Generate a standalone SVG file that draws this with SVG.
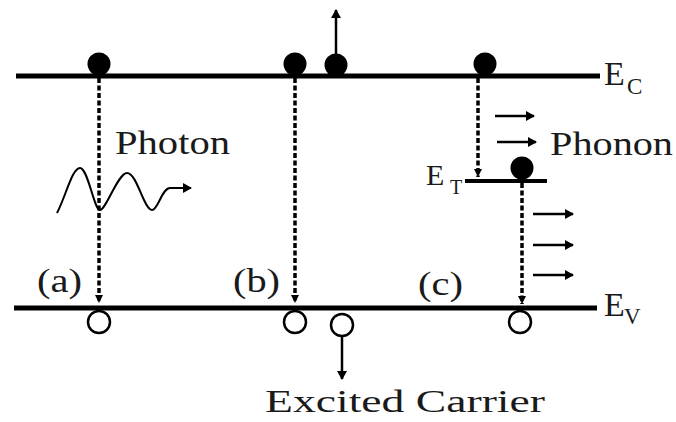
<svg xmlns="http://www.w3.org/2000/svg" width="676" height="422" viewBox="0 0 676 422">
<style>
.band{stroke:#000;stroke-width:5;fill:none}
.dash{stroke:#000;stroke-width:3.5;stroke-dasharray:5 2.5;fill:none}
.arr{stroke:#000;stroke-width:2.5;fill:none}
.e{fill:#000}
.h{fill:#fff;stroke:#000;stroke-width:2.5}
.t{font-family:"Liberation Serif","Times New Roman",serif;fill:#1a1a1a}
</style>
<defs>
<marker id="ah" markerWidth="10" markerHeight="10" refX="8" refY="5" orient="auto" markerUnits="userSpaceOnUse">
<path d="M0,0 L9,5 L0,10 Z" fill="#000"/>
</marker>
<marker id="ahs" markerWidth="10" markerHeight="10" refX="8" refY="5" orient="auto" markerUnits="userSpaceOnUse">
<path d="M0,1 L8,5 L0,9 Z" fill="#000"/>
</marker>
</defs>
<rect width="676" height="422" fill="#fff"/>
<g id="bands">
<line class="band" x1="16" y1="76" x2="600" y2="76"/>
<line class="band" x1="14" y1="308" x2="597" y2="308"/>
<line class="band" x1="465" y1="181" x2="547" y2="181" style="stroke-width:4"/>
</g>
<g id="connectors">
<line class="dash" x1="99" y1="78" x2="99" y2="303" marker-end="url(#ahs)"/>
<line class="dash" x1="295" y1="78" x2="295" y2="303" marker-end="url(#ahs)"/>
<line class="dash" x1="478" y1="78" x2="478" y2="177" marker-end="url(#ahs)"/>
<line class="dash" x1="522" y1="183" x2="522" y2="304" marker-end="url(#ahs)"/>
<line class="arr" x1="336" y1="54" x2="336" y2="10" marker-end="url(#ah)"/>
<line class="arr" x1="342" y1="336" x2="342" y2="379" marker-end="url(#ah)"/>
<path class="arr" d="M57,213 C66,196 72,168 80,168 C88,168 94,210 100,210 C106,210 118,173 127,173 C137,173 144,210 152,210 C158,210 162,188 170,188 L191,188" style="stroke-width:2" marker-end="url(#ah)"/>
<line class="arr" x1="495" y1="116" x2="534" y2="116" marker-end="url(#ah)"/>
<line class="arr" x1="497" y1="142" x2="536" y2="142" marker-end="url(#ah)"/>
<line class="arr" x1="533" y1="214" x2="573" y2="214" marker-end="url(#ah)"/>
<line class="arr" x1="533" y1="245" x2="573" y2="245" marker-end="url(#ah)"/>
<line class="arr" x1="533" y1="275" x2="573" y2="275" marker-end="url(#ah)"/>
</g>
<g id="electrons">
<circle class="e" cx="99" cy="64" r="11.5"/>
<circle class="e" cx="295" cy="64" r="11.5"/>
<circle class="e" cx="336" cy="65" r="11.5"/>
<circle class="e" cx="485" cy="64" r="11.5"/>
<circle class="e" cx="522" cy="168" r="11.5"/>
</g>
<g id="holes">
<circle class="h" cx="99" cy="322" r="11"/>
<circle class="h" cx="295" cy="322" r="11"/>
<circle class="h" cx="342" cy="325" r="11"/>
<circle class="h" cx="520" cy="322" r="11"/>
</g>
<g id="labels">
<text class="t" x="115" y="154" font-size="33" textLength="115" lengthAdjust="spacingAndGlyphs">Photon</text>
<text class="t" x="550" y="155" font-size="33" textLength="123" lengthAdjust="spacingAndGlyphs">Phonon</text>
<text class="t" x="265" y="412" font-size="32" textLength="280" lengthAdjust="spacingAndGlyphs">Excited Carrier</text>
<text class="t" x="37" y="292" font-size="33" textLength="45" lengthAdjust="spacingAndGlyphs">(a)</text>
<text class="t" x="233" y="292" font-size="33" textLength="47" lengthAdjust="spacingAndGlyphs">(b)</text>
<text class="t" x="418" y="295" font-size="33" textLength="45" lengthAdjust="spacingAndGlyphs">(c)</text>
<text class="t" x="604" y="85" font-size="34">E</text>
<text class="t" x="627" y="94" font-size="23">C</text>
<text class="t" x="604" y="316" font-size="34">E</text>
<text class="t" x="624" y="324" font-size="23">V</text>
<text class="t" x="426" y="185" font-size="30">E</text>
<text class="t" x="450" y="194" font-size="20">T</text>
</g>
</svg>
